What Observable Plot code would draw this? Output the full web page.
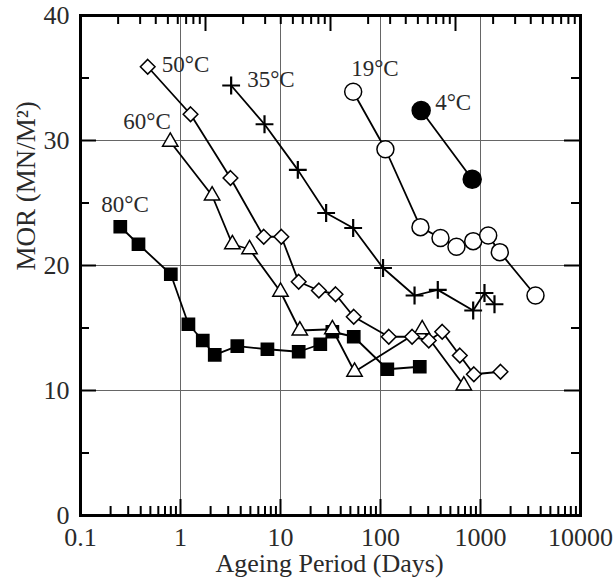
<!DOCTYPE html>
<html>
<head>
<meta charset="utf-8">
<script src="https://cdn.jsdelivr.net/npm/d3@7"></script>
<script src="https://cdn.jsdelivr.net/npm/@observablehq/plot@0.6"></script>
<style>
  html, body { margin: 0; padding: 0; background: #fff; }
</style>
</head>
<body>
<div id="chart"></div>
<script>
// ---------------- data ----------------
const seriesNames = ["80°C", "60°C", "50°C", "35°C", "19°C", "4°C"];

const days80 = [0.25, 0.38, 0.8, 1.2, 1.67, 2.2, 3.7, 7.4, 15.2, 25, 33, 54, 117, 247];
const mor80  = [23.1, 21.7, 19.3, 15.3, 14.0, 12.85, 13.55, 13.3, 13.1, 13.7, 14.7, 14.3, 11.7, 11.9];

const days60 = [0.79, 2.07, 3.3, 4.9, 10, 15.6, 33, 55, 261, 681];
const mor60  = [29.9, 25.6, 21.7, 21.3, 17.9, 14.8, 14.9, 11.5, 14.9, 10.4];

const days50 = [0.47, 1.26, 3.16, 6.8, 10.2, 15.2, 24.2, 35.5, 54, 121, 207, 304, 414, 621, 858, 1585];
const mor50  = [35.9, 32.1, 27.0, 22.3, 22.3, 18.7, 18.0, 17.7, 15.9, 14.3, 14.3, 14.0, 14.7, 12.8, 11.3, 11.5];

const days35 = [3.21, 6.92, 14.9, 28.6, 53.3, 106, 219, 374, 845, 1096, 1380];
const mor35  = [34.4, 31.3, 27.65, 24.2, 23.0, 19.8, 17.6, 18.05, 16.4, 17.8, 16.9];

const days19 = [53.3, 112, 251, 398, 575, 845, 1194, 1560, 3548];
const mor19  = [33.9, 29.3, 23.07, 22.2, 21.5, 21.95, 22.4, 21.07, 17.6];

const days4 = [255, 826];
const mor4  = [32.4, 26.9];

const xTicks = [0.1, 1, 10, 100, 1000, 10000];
const xTickLabels = ["0.1", "1", "10", "100", "1000", "10000"];
const yTicks = [0, 10, 20, 30, 40];
const yTickLabels = ["0", "10", "20", "30", "40"];
const yMinorTicks = [5, 15, 25, 35];
const xGrid = [1, 10, 100, 1000];
const yGrid = [10, 20, 30];
const xTitle = "Ageing Period (Days)";
const yTitle = "MOR (MN/M²)";

// ---------------- build tables ----------------
const seriesDays = [days80, days60, days50, days35, days19, days4];
const seriesMor  = [mor80, mor60, mor50, mor35, mor19, mor4];
const rows = seriesNames.flatMap((name, s) =>
  seriesDays[s].map((d, i) => ({series: name, days: d, mor: seriesMor[s][i]})));
const firstRows = seriesNames.map((name, s) => ({series: name, days: seriesDays[s][0], mor: seriesMor[s][0]}));

// minor log ticks (2..9 in each decade)
const mult = [2, 3, 4, 5, 6, 7, 8, 9];
const xMinor = xTicks.slice(0, -1).flatMap(d => mult.map(k => k * d));
// the reference's top axis is drawn as a 4-decade log axis across the frame
const topDecadeStarts = [1, 10, 100, 1000];
const topMap = m => Math.pow(m, 1.25) / 10;
const topMajor = [1, 10, 100, 1000, 10000].map(topMap);
const topMinor = topDecadeStarts.flatMap(d => mult.map(k => topMap(k * d)));

// ---------------- layout & styles ----------------
const W = 616, H = 588, mL = 80, mR = 36, mT = 15, mB = 73;
const frameW = W - mL - mR, frameH = H - mT - mB;

const dotStyle = {
  "80°C": {symbol: "square",   fill: "black", r: 6.9},
  "60°C": {symbol: "triangle", fill: "white", r: 5.7},
  "50°C": {symbol: "diamond2", fill: "white", r: 6.6},
  "35°C": {symbol: "plus",     fill: "none",  r: 5.8},
  "19°C": {symbol: "circle",   fill: "white", r: 8.5},
  "4°C":  {symbol: "circle",   fill: "black", r: 9}
};
const labelStyle = {
  "80°C": {dx: -19, dy: -22},
  "60°C": {dx: -47, dy: -20},
  "50°C": {dx: 14,  dy: -2},
  "35°C": {dx: 16,  dy: -6},
  "19°C": {dx: -2,  dy: -23},
  "4°C":  {dx: 14,  dy: -8}
};
const font = "'Liberation Serif', 'Times New Roman', Times, serif";
const textColor = "#2a2a2a";
const tickColor = "black";

// inward tick marks: rules spanning the frame, inset so only `len` px remain at one edge
const tickMark = (values, side, len) => {
  const o = {stroke: tickColor, strokeWidth: 2};
  if (side === "bottom") return Plot.ruleX(values, {...o, insetTop: frameH - len});
  if (side === "top") return Plot.ruleX(values, {...o, insetBottom: frameH - len});
  if (side === "left") return Plot.ruleY(values, {...o, insetRight: frameW - len});
  return Plot.ruleY(values, {...o, insetLeft: frameW - len});
};

const marks = [
  Plot.ruleX(xGrid, {stroke: "#666", strokeWidth: 1}),
  Plot.ruleY(yGrid, {stroke: "#666", strokeWidth: 1}),
  Plot.line(rows, {x: "days", y: "mor", z: "series", stroke: "black", strokeWidth: 1.8})
];
for (const name of seriesNames) {
  const st = dotStyle[name];
  marks.push(Plot.dot(rows.filter(d => d.series === name), {
    x: "days", y: "mor", symbol: () => st.symbol, r: st.r,
    fill: st.fill, stroke: "black", strokeWidth: name === "35°C" ? 2.2 : 1.5
  }));
  const ls = labelStyle[name];
  marks.push(Plot.text(firstRows.filter(d => d.series === name), {
    x: "days", y: "mor", text: "series", textAnchor: "start",
    dx: ls.dx, dy: ls.dy, fontSize: 23, fill: textColor, fontFamily: font
  }));
}
marks.push(
  tickMark(xTicks, "bottom", 16),
  tickMark(xMinor, "bottom", 9),
  tickMark(topMajor, "top", 16),
  tickMark(topMinor, "top", 9),
  tickMark(yTicks, "left", 16),
  tickMark(yMinorTicks, "left", 9),
  tickMark(yTicks, "right", 16),
  tickMark(yMinorTicks, "right", 9),
  Plot.frame({stroke: "black", strokeWidth: 3}),
  Plot.axisX({ticks: xTicks, tickFormat: d => xTickLabels[xTicks.indexOf(d)], tickSize: 0, tickPadding: 12,
    fontSize: 26, label: null, fill: textColor, fontFamily: font}),
  Plot.axisY({ticks: yTicks, tickFormat: d => yTickLabels[yTicks.indexOf(d)], tickSize: 0, tickPadding: 11,
    fontSize: 26, label: null, fill: textColor, fontFamily: font}),
  Plot.text([xTitle], {text: d => d, frameAnchor: "bottom", dy: 56, dx: -1, fontSize: 26, fill: textColor, fontFamily: font}),
  Plot.text([yTitle], {text: d => d, frameAnchor: "left", rotate: -90, dx: -54, dy: 5, fontSize: 27, fill: textColor, fontFamily: font})
);

const chart = Plot.plot({
  width: W,
  height: H,
  marginLeft: mL,
  marginRight: mR,
  marginTop: mT,
  marginBottom: mB,
  x: {type: "log", domain: [0.1, 10000]},
  y: {domain: [0, 40]},
  style: {fontFamily: font, background: "white", color: textColor},
  marks
});
document.getElementById("chart").appendChild(chart);
</script>
</body>
</html>
